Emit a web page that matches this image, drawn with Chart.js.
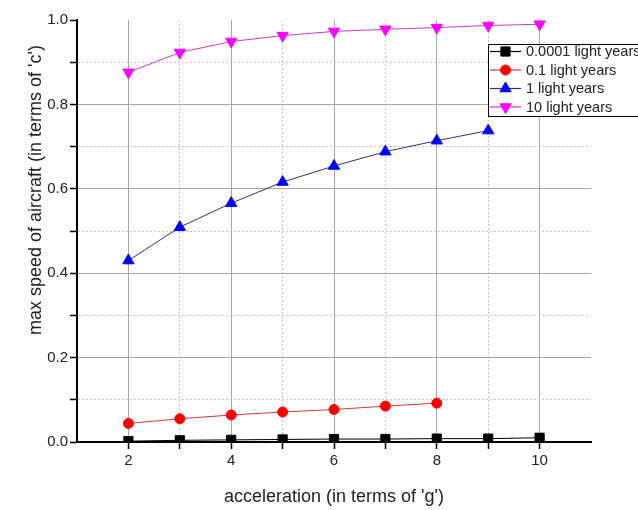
<!DOCTYPE html>
<html>
<head>
<meta charset="utf-8">
<script src="https://cdn.jsdelivr.net/npm/chart.js@4.4.1/dist/chart.umd.min.js"></script>
<style>
  html, body { margin: 0; padding: 0; background: #fff; }
  #wrap { width: 638px; height: 510px; position: relative; }
</style>
</head>
<body>
<div id="wrap"><canvas id="speedChart"></canvas></div>
<script>
// acceleration in g
const accel = [2, 3, 4, 5, 6, 7, 8, 9, 10];
const seriesNames = ['0.0001 light years', '0.1 light years', '1 light years', '10 light years'];
// max speed in terms of c
const speed0001 = [0.002, 0.004, 0.005, 0.006, 0.007, 0.007, 0.008, 0.008, 0.010];
const speed01 = [0.044, 0.055, 0.064, 0.071, 0.077, 0.085, 0.092];
const speed1 = [0.430, 0.509, 0.566, 0.616, 0.654, 0.688, 0.714, 0.738];
const speed10 = [0.876, 0.923, 0.949, 0.963, 0.973, 0.978, 0.982, 0.987, 0.990];
const xTickLabels = [2, 4, 6, 8, 10];

const FONT = "'Liberation Sans', Arial, sans-serif";

const toPoints = (ys) => ys.map((y, i) => ({ x: accel[i], y: y }));

const mkSet = (label, ys, line, fill, style, radius, rot) => ({
    label: label,
    data: toPoints(ys),
    borderColor: line,
    borderWidth: 1,
    backgroundColor: fill,
    pointBackgroundColor: fill,
    pointBorderColor: fill,
    pointBorderWidth: 1,
    pointStyle: style,
    pointRadius: radius,
    pointHoverRadius: radius,
    pointRotation: rot || 0,
    tension: 0
});

const datasets = [
    mkSet(seriesNames[0], speed0001, '#000000', '#000000', 'rect', 6.5),
    mkSet(seriesNames[1], speed01, '#cc3a3a', '#ff0000', 'circle', 5),
    mkSet(seriesNames[2], speed1, '#30307a', '#0000ff', 'triangle', 6.5),
    mkSet(seriesNames[3], speed10, '#c83cc8', '#ff00ff', 'triangle', 6.5, 180)
];

const isMinorY = (v) => Math.round(v * 10) % 2 === 1;

// legend box + y title drawn on top
const extras = {
    id: 'extras',
    afterDraw(chart) {
        const ctx = chart.ctx;
        ctx.save();
        // y axis title
        ctx.translate(36, 190);
        ctx.rotate(-Math.PI / 2);
        ctx.font = '18px ' + FONT;
        ctx.fillStyle = '#222';
        ctx.textAlign = 'center';
        ctx.textBaseline = 'middle';
        ctx.fillText("max speed of aircraft (in terms of 'c')", 0, 0);
        ctx.restore();

        // legend
        const left = 488, top = 44, w = 160, h = 72, rowH = 18.5;
        ctx.save();
        ctx.fillStyle = '#fff';
        ctx.fillRect(left, top, w, h);
        ctx.strokeStyle = '#000';
        ctx.lineWidth = 1;
        ctx.strokeRect(left + 0.5, top + 0.5, w, h);
        chart.data.datasets.forEach((ds, i) => {
            const y = top + 7.5 + i * rowH;
            ctx.strokeStyle = ds.borderColor;
            ctx.lineWidth = 1.2;
            ctx.beginPath();
            ctx.moveTo(490, y);
            ctx.lineTo(521, y);
            ctx.stroke();
            ctx.fillStyle = ds.pointBackgroundColor;
            ctx.strokeStyle = ds.pointBorderColor;
            ctx.lineWidth = 1;
            if (Chart.helpers && Chart.helpers.drawPoint) {
                Chart.helpers.drawPoint(ctx, {
                    pointStyle: ds.pointStyle,
                    radius: ds.pointRadius,
                    rotation: ds.pointRotation,
                    borderWidth: 1
                }, 505.5, y);
            }
            ctx.fillStyle = '#222';
            ctx.font = '14.5px ' + FONT;
            ctx.textAlign = 'left';
            ctx.textBaseline = 'middle';
            ctx.fillText(ds.label, 526, y + 0.5);
        });
        ctx.restore();
    }
};

new Chart('speedChart', {
    type: 'line',
    data: { datasets: datasets },
    plugins: [extras],
    options: {
        responsive: true,
        maintainAspectRatio: false,
        animation: false,
        layout: { padding: { top: 20, right: 47, left: 0, bottom: 0 } },
        plugins: {
            legend: { display: false },
            tooltip: { enabled: false }
        },
        scales: {
            x: {
                type: 'linear',
                min: 1,
                max: 11,
                afterFit: (s) => { s.height = 68; },
                ticks: {
                    stepSize: 1,
                    autoSkip: false,
                    maxRotation: 0,
                    padding: 3,
                    color: '#222',
                    font: { family: FONT, size: 15 },
                    callback: (v) => xTickLabels.includes(v) ? String(v) : ''
                },
                grid: {
                    color: (c) => {
                        const v = c.tick ? c.tick.value : 0;
                        if (v === 1 || v === 11) return 'rgba(0,0,0,0)';
                        return v % 2 === 1 ? '#c4c4c4' : '#a6a6a6';
                    },
                    lineWidth: 1,
                    tickLength: 7,
                    tickWidth: 1.5,
                    tickColor: (c) => {
                        const v = c.tick ? c.tick.value : 0;
                        return (v === 1 || v === 11) ? 'rgba(0,0,0,0)' : '#000';
                    }
                },
                border: {
                    display: true,
                    color: '#000',
                    width: 2,
                    dash: (c) => (c.tick && c.tick.value % 2 === 1) ? [2, 2] : []
                },
                title: {
                    display: true,
                    text: "acceleration (in terms of 'g')",
                    color: '#222',
                    font: { family: FONT, size: 18 },
                    padding: { top: 0, bottom: 2 }
                }
            },
            y: {
                type: 'linear',
                min: 0,
                max: 1,
                afterFit: (s) => { s.width = 77; },
                ticks: {
                    stepSize: 0.1,
                    autoSkip: false,
                    padding: 2,
                    color: '#222',
                    font: { family: FONT, size: 15 },
                    callback: (v) => isMinorY(v) ? '' : Number(v).toFixed(1)
                },
                grid: {
                    color: (c) => {
                        const v = c.tick ? c.tick.value : 0;
                        if (Math.abs(v) < 1e-6 || Math.abs(v - 1) < 1e-6) return 'rgba(0,0,0,0)';
                        return isMinorY(v) ? '#c4c4c4' : '#a6a6a6';
                    },
                    lineWidth: 1,
                    tickLength: 7,
                    tickWidth: 1.5,
                    tickColor: '#000'
                },
                border: {
                    display: true,
                    color: '#000',
                    width: 2,
                    dash: (c) => (c.tick && isMinorY(c.tick.value)) ? [2, 2] : []
                }
            }
        }
    }
});
</script>
</body>
</html>
